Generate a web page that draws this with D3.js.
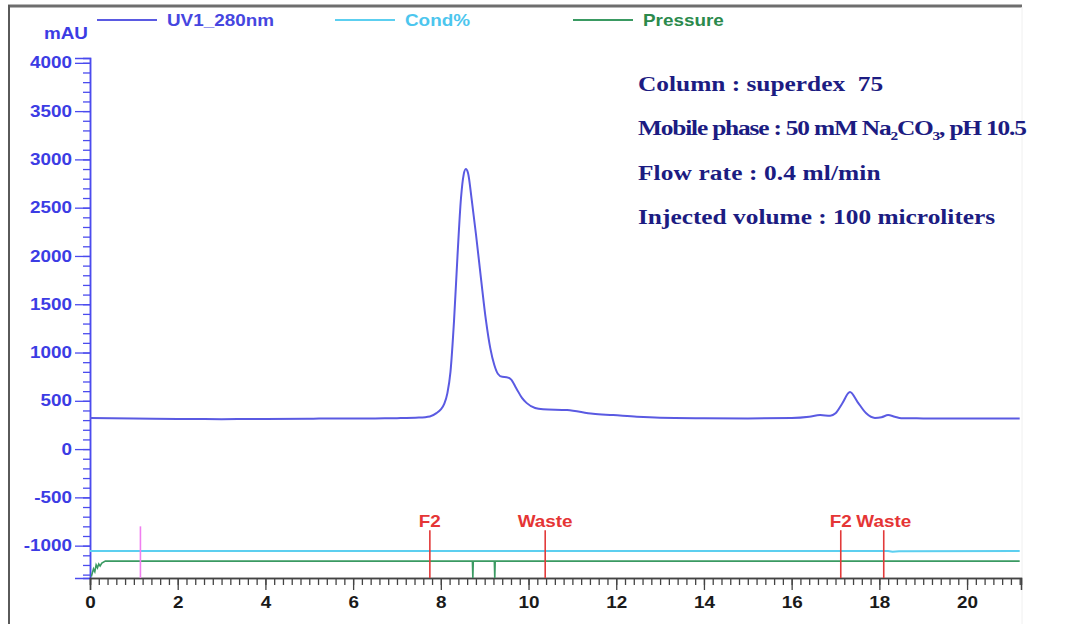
<!DOCTYPE html>
<meta charset="utf-8">
<style>
  body { margin: 0; background: #fff; }
  svg { display: block; }
  .ax text { font-family: "Liberation Sans", Arial, sans-serif; font-weight: bold; font-size: 16px; }
</style>
<body>
<div id="chart"></div>
<script src="https://d3js.org/d3.v7.min.js"></script>
<script>
  // UV1_280nm trace (time in min, mAU)
  var uvTime = [0, 0.5, 1, 2, 3, 4, 5, 5.5, 6, 6.5, 7, 7.5, 7.75, 7.9, 8.0, 8.08, 8.15, 8.22, 8.3, 8.38, 8.46, 8.52, 8.57,
    8.62, 8.7, 8.8, 8.92, 9.03, 9.13, 9.22, 9.3, 9.4, 9.5, 9.6, 9.72, 9.85, 9.96, 10.15, 10.33, 10.88, 11.47, 11.93,
    12.47, 13, 14, 15, 16, 16.4, 16.65, 16.88, 17.0, 17.15, 17.33, 17.5, 17.7, 17.9, 18.05, 18.2, 18.35, 18.5, 19, 20, 21.2];
  var uvValue = [322, 320, 318, 312, 310, 312, 314, 318, 316, 318, 320, 326, 338, 372, 412, 470, 580, 800, 1320, 2000, 2600, 2840, 2900,
    2860, 2600, 2230, 1750, 1330, 1040, 870, 780, 748, 745, 722, 630, 530, 476, 425, 412, 404, 365, 352,
    335, 325, 320, 318, 322, 335, 352, 345, 370, 470, 590, 490, 370, 322, 330, 352, 335, 320, 318, 316, 316];

  // Cond% and Pressure traces, drawn in the same plot units as in the picture
  var condTime = [0, 18.2, 18.3, 18.45, 21.2];
  var condValue = [-1056, -1056, -1064, -1057, -1056];
  var presTime = [0.03, 0.08, 0.11, 0.14, 0.17, 0.2, 0.23, 0.27, 0.35, 8.72, 8.73, 8.74, 9.22, 9.23, 9.24, 21.2];
  var presValue = [-1320, -1240, -1270, -1200, -1230, -1190, -1210, -1180, -1160, -1160, -1335, -1160, -1160, -1335, -1160, -1160];

  // fraction marks
  var fracTime = [7.75, 10.38, 17.12, 18.1];
  var fracLabel = ["F2", "Waste", "F2", "Waste"];
  var fracTop = -840;
  var injectTime = 1.15;
  var injectTop = -800;

  var legendNames = ["UV1_280nm", "Cond%", "Pressure"];
  var legendColors = ["#5a5ae2", "#5ccff0", "#3a9a62"];
  var legendTextColors = ["#4646e0", "#4cc6ee", "#2b8a4c"];

  var notes = ["Column : superdex  75", "Mobile phase : 50 mM Na|2|CO|3|, pH 10.5", "Flow rate : 0.4 ml/min", "Injected volume : 100 microliters"];
  var noteSpacing = [0, -1.0, 0.1, 0];

  var yMajor = d3.range(-1000, 4001, 500);
  var yMinor = d3.range(-1300, 4001, 100);
  var xMajor = d3.range(0, 21, 2);
  var xMinor = d3.range(0, 21.21, 0.2);

  var W = 1089, H = 624;
  var K = 1.18; // horizontal stretch of the source picture's text

  var svg = d3.select("#chart").append("svg").attr("width", W).attr("height", H);

  var x = d3.scaleLinear().domain([0, 21.23]).range([90, 1021]);
  var y = d3.scaleLinear().domain([-1335, 4050]).range([578, 58]);

  function stretch(sel) {
    sel.each(function () {
      var t = d3.select(this);
      var x0 = +t.attr("x") || 0;
      t.attr("transform", "translate(" + (x0 * (1 - K)) + ",0) scale(" + K + ",1)");
    });
  }

  // frame
  svg.append("line").attr("x1", 8).attr("x2", 1022).attr("y1", 6).attr("y2", 6)
    .attr("stroke", "#6e6e6e").attr("stroke-width", 3);
  svg.append("line").attr("x1", 9).attr("x2", 9).attr("y1", 5).attr("y2", H)
    .attr("stroke", "#5a5a5a").attr("stroke-width", 2);
  svg.append("line").attr("x1", 1022).attr("x2", 1022).attr("y1", 7).attr("y2", H)
    .attr("stroke", "#f0f0f0").attr("stroke-width", 1);

  // y axis
  var yMinorG = svg.append("g").attr("class", "ax").attr("transform", "translate(90,0)")
    .call(d3.axisLeft(y).tickValues(yMinor).tickSize(7).tickFormat(""));
  var yG = svg.append("g").attr("class", "ax").attr("transform", "translate(90,0)")
    .call(d3.axisLeft(y).tickValues(yMajor).tickSize(15).tickPadding(3).tickFormat(function (d) { return String(d); }));
  [yMinorG, yG].forEach(function (g) {
    g.select(".domain").attr("stroke", "#4b4bee").attr("stroke-width", 1.5);
    g.selectAll(".tick line").attr("stroke", "#4b4bee").attr("stroke-width", 1.3);
  });
  yG.selectAll("text").attr("fill", "#3c3ce4").call(stretch);

  // x axis
  var xMinorG = svg.append("g").attr("class", "ax").attr("transform", "translate(0,578)")
    .call(d3.axisBottom(x).tickValues(xMinor).tickSize(7).tickFormat(""));
  var xG = svg.append("g").attr("class", "ax").attr("transform", "translate(0,578)")
    .call(d3.axisBottom(x).tickValues(xMajor).tickSize(12).tickPadding(7).tickFormat(function (d) { return String(d); }));
  [xMinorG, xG].forEach(function (g) {
    g.select(".domain").attr("stroke", "#444").attr("stroke-width", 1.5);
    g.selectAll(".tick line").attr("stroke", "#444").attr("stroke-width", 1.3);
  });
  xG.selectAll("text").attr("fill", "#1a1a1a").call(stretch);

  svg.append("text").attr("x", 88).attr("y", 39).attr("text-anchor", "end")
    .style("font-family", "Liberation Sans, Arial, sans-serif").style("font-weight", "bold").style("font-size", "16px")
    .attr("fill", "#3c3ce4").text("mAU").call(stretch);

  // traces
  var uvLine = d3.line().x(function (d) { return x(d[0]); }).y(function (d) { return y(d[1]); }).curve(d3.curveMonotoneX);
  var flatLine = d3.line().x(function (d) { return x(d[0]); }).y(function (d) { return y(d[1]); });

  svg.append("path").datum(d3.zip(condTime, condValue)).attr("d", flatLine)
    .attr("fill", "none").attr("stroke", legendColors[1]).attr("stroke-width", 2);
  svg.append("path").datum(d3.zip(presTime, presValue)).attr("d", flatLine)
    .attr("fill", "none").attr("stroke", legendColors[2]).attr("stroke-width", 1.6);

  svg.append("line").attr("x1", x(injectTime)).attr("x2", x(injectTime))
    .attr("y1", y(injectTop)).attr("y2", y(-1335)).attr("stroke", "#f07ef0").attr("stroke-width", 1.6);

  var frac = svg.selectAll(".frac").data(d3.zip(fracTime, fracLabel)).enter().append("g").attr("class", "frac");
  frac.append("line").attr("x1", function (d) { return x(d[0]); }).attr("x2", function (d) { return x(d[0]); })
    .attr("y1", y(fracTop)).attr("y2", y(-1335)).attr("stroke", "#e23a3a").attr("stroke-width", 1.6);
  frac.append("text").attr("x", function (d) { return x(d[0]); }).attr("y", y(fracTop) - 3)
    .attr("text-anchor", "middle").attr("fill", "#e53535")
    .style("font-family", "Liberation Sans, Arial, sans-serif").style("font-weight", "bold").style("font-size", "16px")
    .text(function (d) { return d[1]; }).call(stretch);

  svg.append("path").datum(d3.zip(uvTime, uvValue)).attr("d", uvLine)
    .attr("fill", "none").attr("stroke", legendColors[0]).attr("stroke-width", 2);

  // legend
  var leg = svg.selectAll(".leg").data(legendNames).enter().append("g").attr("class", "leg")
    .attr("transform", function (d, i) { return "translate(" + (97 + i * 238) + ",20)"; });
  leg.append("line").attr("x1", 0).attr("x2", 60).attr("stroke", function (d, i) { return legendColors[i]; })
    .attr("stroke-width", 2);
  leg.append("text").attr("x", 70).attr("y", 6).attr("fill", function (d, i) { return legendTextColors[i]; })
    .style("font-family", "Liberation Sans, Arial, sans-serif").style("font-weight", "bold").style("font-size", "16px")
    .text(function (d) { return d; }).call(stretch);

  // run notes
  var noteG = svg.append("g").attr("transform", "translate(638,0) scale(" + K + ",1)");
  notes.forEach(function (s, i) {
    var t = noteG.append("text").attr("x", 0).attr("y", 91 + i * 44.3).attr("fill", "#1c1c82")
      .style("font-family", "Liberation Serif, Times New Roman, serif").style("font-weight", "bold")
      .style("font-size", "21.5px").style("letter-spacing", noteSpacing[i] + "px").style("white-space", "pre");
    s.split("|").forEach(function (part, j) {
      var sub = j % 2 === 1;
      t.append("tspan").text(part)
        .attr("dy", j === 0 ? 0 : (sub ? 5 : -5))
        .style("font-size", sub ? "13px" : "21.5px");
    });
  });
</script>
</body>
